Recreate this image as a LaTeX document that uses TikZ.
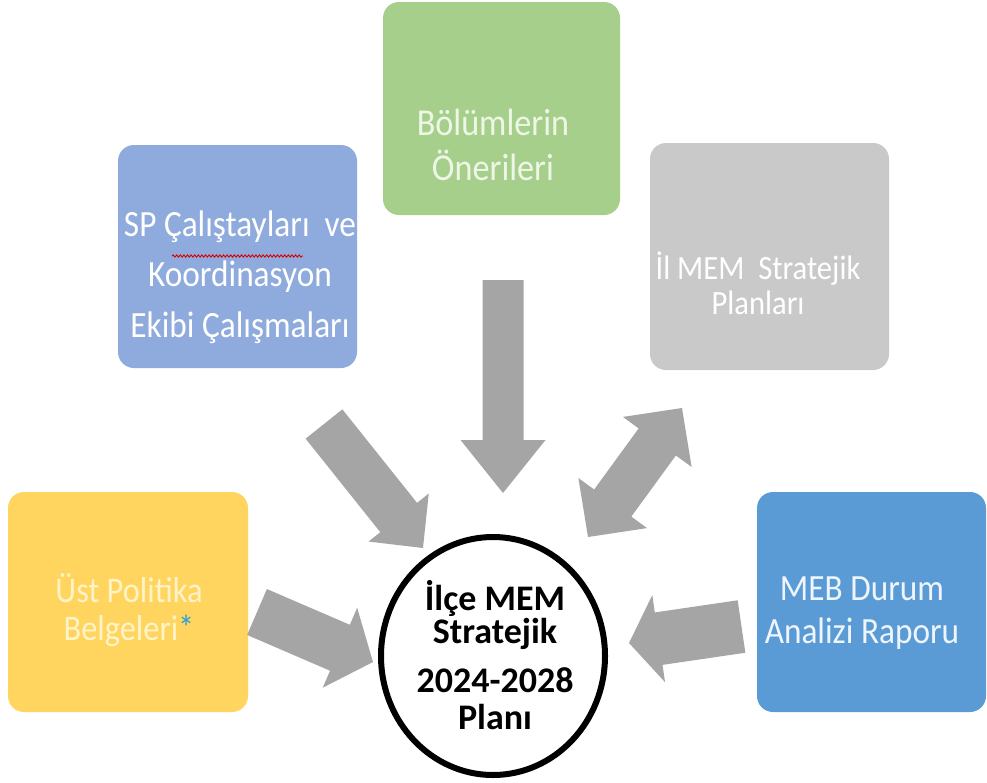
\documentclass[tikz,border=0pt]{standalone}
\usepackage{fontspec}
\setmainfont{Carlito}
\newfontfamily\boxfont{Carlito}[FakeStretch=0.9]
\usetikzlibrary{calc,shapes.geometric,decorations.pathmorphing}
\definecolor{cgreen}{HTML}{A6CF8C}
\definecolor{cblue}{HTML}{8FAADC}
\definecolor{cgray}{HTML}{C9C9C9}
\definecolor{cyellow}{HTML}{FFD55F}
\definecolor{cmeb}{HTML}{5B9BD5}
\definecolor{carrow}{HTML}{A5A5A5}
\definecolor{tgreen}{HTML}{EEF6E6}
\definecolor{tyellow}{HTML}{FFF4C8}
\definecolor{tmeb}{HTML}{EEF5FC}
\definecolor{cstar}{HTML}{2EA0D8}
\newcommand\blkarrow[5]{%
  \path ($(#2)!#5!(#1)$) coordinate (#2b);
  \fill[arrowfill] ($(#1)!#3!90:(#2)$) -- ($(#2b)!#3!90:(#2)$) -- ($(#2b)!#4!90:(#2)$)
    -- (#2) -- ($(#2b)!#4!-90:(#2)$) -- ($(#2b)!#3!-90:(#2)$) -- ($(#1)!#3!-90:(#2)$) -- cycle;}
\newcommand\dblarrow[5]{%
  \path ($(#1)!#5!(#2)$) coordinate (#1b) ($(#2)!#5!(#1)$) coordinate (#2b);
  \fill[arrowfill] (#1) -- ($(#1b)!#4!90:(#2)$) -- ($(#1b)!#3!90:(#2)$) -- ($(#2b)!#3!90:(#2)$)
    -- ($(#2b)!#4!90:(#2)$) -- (#2) -- ($(#2b)!#4!-90:(#2)$) -- ($(#2b)!#3!-90:(#2)$)
    -- ($(#1b)!#3!-90:(#2)$) -- ($(#1b)!#4!-90:(#2)$) -- cycle;}
\begin{document}
\begin{tikzpicture}[x=1pt,y=-1pt,
  box/.style={rectangle, rounded corners=16pt, inner sep=0pt, draw=none},
  boxtext/.style={align=center, inner sep=0pt, text=white, font=\boxfont\fontsize{38}{45}\selectfont},
  arrowfill/.style={fill=carrow}]
\fill[white] (0,0) rectangle (987,782);
\useasboundingbox (0,0) rectangle (987,782);

% boxes
\node[box, fill=cgreen, minimum width=237pt, minimum height=213pt] (green) at (501.5,108.5) {};
\node[box, fill=cblue, minimum width=239pt, minimum height=223pt] (sp) at (237.5,256.5) {};
\node[box, fill=cgray, minimum width=239pt, minimum height=227pt] (il) at (769.5,256.5) {};
\node[box, fill=cyellow, minimum width=240pt, minimum height=220pt] (ust) at (128,602) {};
\node[box, fill=cmeb, minimum width=229pt, minimum height=220pt] (meb) at (871.5,602) {};

% box texts
\node[boxtext, text=tgreen] (greentext) at (493,145) {Bölümlerin\\Önerileri};
\node[boxtext, font=\boxfont\fontsize{37}{50.5}\selectfont] (sptext) at (240,277) {SP Çalıştayları\ \ ve\\Koordinasyon\\Ekibi Çalışmaları};
\draw[red!85!black, line width=0.9pt, decorate, decoration={snake, amplitude=1.1pt, segment length=3.6pt}] (172,256) -- (303,256);
\node[boxtext, font=\boxfont\fontsize{34}{35}\selectfont] (iltext) at (758,283) {İl MEM\ \ Stratejik\\Planları};
\node[boxtext, text=tyellow, font=\boxfont\fontsize{36}{38}\selectfont] (usttext) at (129,610) {Üst Politika\\Belgeleri\textcolor{cstar}{*}};
\node[boxtext, text=tmeb, font=\boxfont\fontsize{37}{43}\selectfont] (mebtext) at (862,613) {MEB Durum\\Analizi Raporu};

% arrow end points
\coordinate (a1s) at (503,280);  \coordinate (a1t) at (503,493);
\coordinate (a2s) at (324,424);  \coordinate (a2t) at (423,548);
\coordinate (a3s) at (682,408);  \coordinate (a3t) at (588,537);
\coordinate (a4s) at (257,612);  \coordinate (a4t) at (373,662);
\coordinate (a5s) at (741.5,626.5); \coordinate (a5t) at (629,643);

\blkarrow{a1s}{a1t}{20.5pt}{42.5pt}{53pt}
\blkarrow{a2s}{a2t}{23.5pt}{38.5pt}{39pt}
\dblarrow{a3s}{a3t}{23pt}{42.5pt}{42pt}
\blkarrow{a4s}{a4t}{25pt}{43.5pt}{36pt}
\blkarrow{a5s}{a5t}{26.5pt}{44pt}{30pt}

% centre ellipse
\node[ellipse, draw=black, fill=white, line width=6pt, minimum width=224pt, minimum height=238pt, inner sep=0pt] (plan) at (493,656) {};
\node[align=center, inner sep=0pt, font=\bfseries\fontsize{36}{33}\selectfont] (plantext) at (495,655)
  {İlçe MEM\\Stratejik\\[16pt]2024-2028\\[4pt]Planı};
\end{tikzpicture}
\end{document}
